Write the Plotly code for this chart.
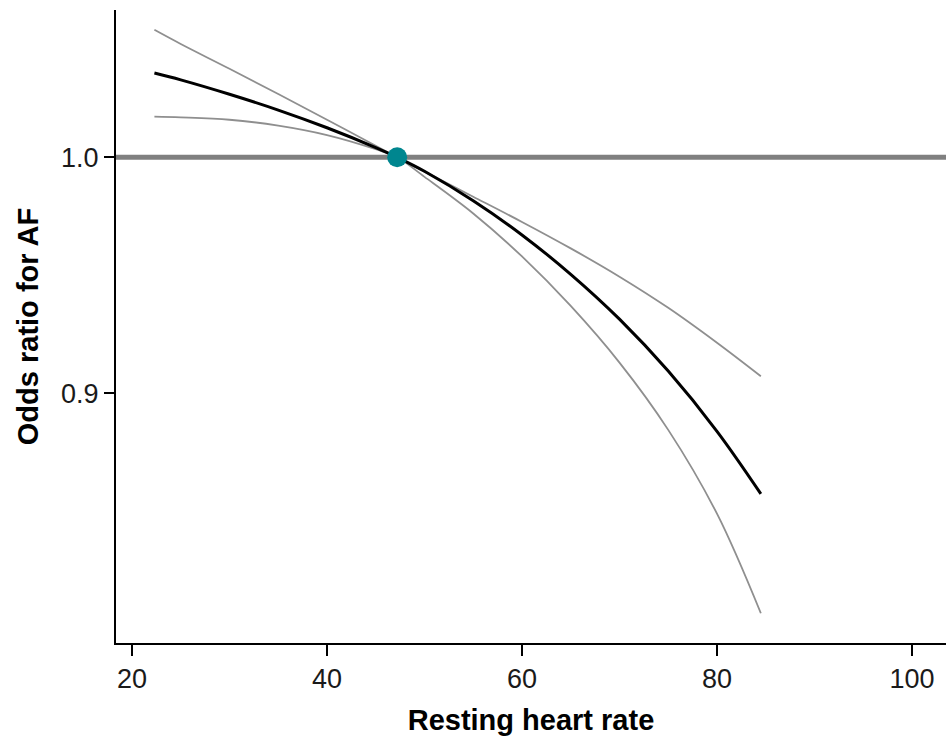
import plotly.graph_objects as go

# Resting heart rate (bpm) at which the fitted curve and its 95% CI are drawn
heart_rate = [22.3, 25, 30, 35, 40, 45, 47.2, 50, 55, 60, 65, 70, 75, 80, 84.5]

# Odds ratio for AF relative to the reference heart rate
or_estimate = [1.0357, 1.0328, 1.0267, 1.0200, 1.0125, 1.0041, 1.0, 0.9941,
               0.9816, 0.9671, 0.9504, 0.9314, 0.9094, 0.8839, 0.8574]
or_upper = [1.0540, 1.0480, 1.0375, 1.0268, 1.0159, 1.0049, 1.0, 0.9939,
            0.9833, 0.9726, 0.9614, 0.9494, 0.9362, 0.9214, 0.9072]
or_lower = [1.0172, 1.0169, 1.0159, 1.0134, 1.0094, 1.0034, 1.0, 0.9917,
            0.9762, 0.9580, 0.9370, 0.9130, 0.8845, 0.8490, 0.8068]

# Reference point (odds ratio fixed at 1)
ref_hr = [47.2]
ref_or = [1.0]

x_ticks = [20, 40, 60, 80, 100]
y_ticks = [0.9, 1.0]
y_tick_text = ["0.9", "1.0"]

FONT = "Liberation Sans, Arial, sans-serif"
CI_COLOR = "#8f8f8f"

fig = go.Figure()

for band in (or_upper, or_lower):
    fig.add_trace(go.Scatter(
        x=heart_rate, y=band, mode="lines",
        line=dict(color=CI_COLOR, width=1.8, shape="spline", smoothing=1.0),
        hoverinfo="skip", showlegend=False,
    ))

fig.add_trace(go.Scatter(
    x=heart_rate, y=or_estimate, mode="lines",
    line=dict(color="#000000", width=3, shape="spline", smoothing=1.0),
    showlegend=False,
))

fig.add_trace(go.Scatter(
    x=ref_hr, y=ref_or, mode="markers",
    marker=dict(color="#00868f", size=20, line=dict(width=0)),
    showlegend=False,
))

# Null line at OR = 1
fig.add_shape(type="line", xref="paper", x0=0, x1=1, yref="y", y0=1.0, y1=1.0,
              line=dict(color="#808080", width=5), layer="below")

fig.update_layout(
    width=946, height=736,
    margin=dict(l=116, r=0, t=10, b=93),
    paper_bgcolor="white", plot_bgcolor="white",
    font=dict(family=FONT, color="#1a1a1a"),
    xaxis=dict(
        range=[18.36, 103.49], tickvals=x_ticks,
        showgrid=False, zeroline=False,
        showline=True, linecolor="#000000", linewidth=2,
        ticks="outside", ticklen=11, tickwidth=2, tickcolor="#000000",
        tickfont=dict(size=27, family=FONT, color="#1a1a1a"),
        title=dict(text="<b>Resting heart rate</b>",
                   font=dict(size=29, family=FONT, color="#000000"), standoff=16),
    ),
    yaxis=dict(
        range=[0.7942, 1.0624], tickvals=y_ticks, ticktext=y_tick_text,
        showgrid=False, zeroline=False,
        showline=True, linecolor="#000000", linewidth=2,
        ticks="outside", ticklen=10, tickwidth=2, tickcolor="#000000",
        tickfont=dict(size=27, family=FONT, color="#1a1a1a"),
        title=dict(text="<b>Odds ratio for AF</b>",
                   font=dict(size=29, family=FONT, color="#000000"), standoff=14),
    ),
)

fig.write_html("out.html", config={"displayModeBar": False})
